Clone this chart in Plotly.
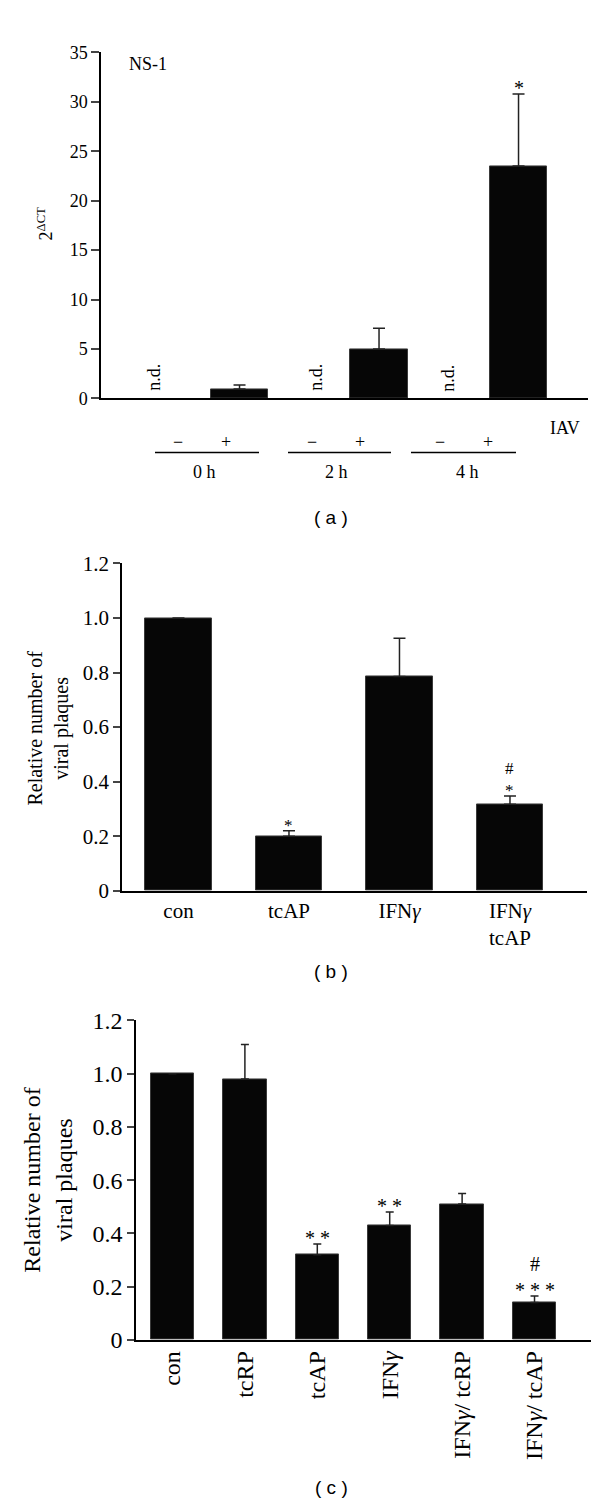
import plotly.graph_objects as go

W, H = 600, 1507
SERIF = "Liberation Serif"
SANS = "Liberation Sans"

# ---------------- data ----------------
# Panel (a): NS-1 expression, IAV -/+ at 0 h, 2 h, 4 h
a_groups = ["0 h", "2 h", "4 h"]
a_iav = ["−", "+"]
a_values = [None, 0.95, None, 5.0, None, 23.5]
a_err = [0, 0.4, 0, 2.1, 0, 7.3]
a_ticks = [0, 5, 10, 15, 20, 25, 30, 35]
a_marks = ["", "", "", "", "", "*"]

# Panel (b)
b_labels = ["con", "tcAP", "IFN<i>γ</i>", "IFN<i>γ</i><br>tcAP"]
b_values = [1.0, 0.20, 0.786, 0.317]
b_err = [0, 0.02, 0.14, 0.03]
b_marks = ["", "*", "", "#<br>*"]

# Panel (c)
c_labels = ["con", "tcRP", "tcAP", "IFN<i>γ</i>", "IFN<i>γ</i>/ tcRP", "IFN<i>γ</i>/ tcAP"]
c_values = [1.0, 0.98, 0.32, 0.43, 0.51, 0.14]
c_err = [0, 0.13, 0.04, 0.05, 0.04, 0.025]
c_marks = ["", "", "* *", "* *", "", "#<br>* * *"]

bc_ticks = [0, 0.2, 0.4, 0.6, 0.8, 1.0, 1.2]
bc_ticktext = ["0", "0.2", "0.4", "0.6", "0.8", "1.0", "1.2"]


def fx(px):
    return px / W


def fy(py):
    return 1 - py / H


BAR_COLOR = "#060606"
BAR_LINE = dict(color="#3a3a3a", width=1)
FA, FB, FC = 18, 21, 24

fig = go.Figure()

# ---- panel (a) bars
a_pos = list(range(len(a_values)))
fig.add_trace(go.Bar(
    x=a_pos, y=a_values, width=0.82, xaxis="x", yaxis="y",
    marker=dict(color=BAR_COLOR, line=BAR_LINE),
    error_y=dict(type="data", symmetric=False, array=a_err, arrayminus=[0] * len(a_err),
                 color="#222", thickness=1.5, width=6),
    showlegend=False, hoverinfo="skip"))

# ---- panel (b) bars
b_pos = list(range(len(b_values)))
fig.add_trace(go.Bar(
    x=b_pos, y=b_values, width=0.6, xaxis="x2", yaxis="y2",
    marker=dict(color=BAR_COLOR, line=BAR_LINE),
    error_y=dict(type="data", symmetric=False, array=b_err, arrayminus=[0] * len(b_err),
                 color="#222", thickness=1.5, width=6),
    showlegend=False, hoverinfo="skip"))

# ---- panel (c) bars
c_pos = list(range(len(c_values)))
fig.add_trace(go.Bar(
    x=c_pos, y=c_values, width=0.6, xaxis="x3", yaxis="y3",
    marker=dict(color=BAR_COLOR, line=BAR_LINE),
    error_y=dict(type="data", symmetric=False, array=c_err, arrayminus=[0] * len(c_err),
                 color="#222", thickness=1.5, width=4),
    showlegend=False, hoverinfo="skip"))

axis_common = dict(showline=True, linecolor="black", linewidth=1.5, showgrid=False,
                   zeroline=False, fixedrange=True)

fig.update_layout(
    width=W, height=H, margin=dict(l=0, r=0, t=0, b=0),
    paper_bgcolor="white", plot_bgcolor="white",
    font=dict(family=SERIF, color="black"),
    bargap=0,
    # panel (a)
    xaxis=dict(domain=[fx(93), fx(580)], range=[-0.986, 5.996], anchor="y",
               showticklabels=False, ticks="", **axis_common),
    yaxis=dict(domain=[fy(384), fy(32)], range=[0, 35], anchor="x",
               tickvals=a_ticks, ticks="outside", ticklen=8, tickwidth=1.5,
               tickfont=dict(size=FA, family=SERIF), **axis_common),
    # panel (b)
    xaxis2=dict(domain=[fx(114), fx(579)], range=[-0.511, 3.697], anchor="y2",
                tickvals=b_pos, ticktext=b_labels, ticks="",
                tickfont=dict(size=FB, family=SERIF), **axis_common),
    yaxis2=dict(domain=[fy(885), fy(552)], range=[0, 1.2], anchor="x2",
                tickvals=bc_ticks, ticktext=bc_ticktext, ticks="outside", ticklen=7,
                tickwidth=1.5, tickfont=dict(size=FB, family=SERIF), **axis_common),
    # panel (c)
    xaxis3=dict(domain=[fx(128), fx(583)], range=[-0.504, 5.78], anchor="y3",
                tickvals=c_pos, ticktext=c_labels, ticks="", tickangle=-90,
                tickfont=dict(size=FC, family=SERIF), **axis_common),
    yaxis3=dict(domain=[fy(1342), fy(1017)], range=[0, 1.2], anchor="x3",
                tickvals=bc_ticks, ticktext=bc_ticktext, ticks="outside", ticklen=7,
                tickwidth=1.5, tickfont=dict(size=FC, family=SERIF), **axis_common),
)

ann = []
shapes = []


def txt(xp, yp, text, size, family=SERIF, angle=0):
    return dict(x=fx(xp), y=fy(yp), xref="paper", yref="paper", text=text,
                xanchor="center", yanchor="middle", textangle=angle,
                showarrow=False, font=dict(size=size, family=family, color="black"))


# ---- panel (a) annotations
ann.append(txt(140, 44, "NS-1", FA))
ann.append(txt(37, 207, "2<sup>ΔCT</sup>", FA, angle=-90))
nd_x_px = [146, 308, 440]
for xp in nd_x_px:
    ann.append(txt(xp, 363, "n.d.", FA, angle=-90))
for i, m in enumerate(a_marks):
    if m:
        ann.append(dict(x=a_pos[i], y=a_values[i] + a_err[i], xref="x", yref="y", text=m,
                        showarrow=False, xanchor="center", yanchor="bottom", yshift=-7,
                        font=dict(size=20, family=SERIF)))
# -/+ row, group lines and labels
sign_x_px = [[170, 218], [304, 352], [432, 480]]
line_x_px = [[147, 251], [280, 383], [403, 508]]
grp_x_px = [196, 328, 459]
for g in range(len(a_groups)):
    for k in range(2):
        ann.append(txt(sign_x_px[g][k], 428, a_iav[k], FA))
    shapes.append(dict(type="line", xref="paper", yref="paper",
                       x0=fx(line_x_px[g][0]), x1=fx(line_x_px[g][1]),
                       y0=fy(439), y1=fy(439), line=dict(color="black", width=1.5)))
    ann.append(txt(grp_x_px[g], 459, a_groups[g], FA))
ann.append(txt(557, 414, "IAV", FA))

# ---- panel (b) annotations
ann.append(txt(41, 720, "Relative number of<br>viral plaques", 20, angle=-90))
for i, m in enumerate(b_marks):
    if m:
        ann.append(dict(x=b_pos[i], y=b_values[i] + b_err[i], xref="x2", yref="y2", text=m,
                        showarrow=False, xanchor="center", yanchor="bottom", yshift=-6,
                        font=dict(size=17, family=SERIF)))

# ---- panel (c) annotations
ann.append(txt(40, 1180, "Relative number of<br>viral plaques", FC, angle=-90))
for i, m in enumerate(c_marks):
    if m:
        ann.append(dict(x=c_pos[i], y=c_values[i] + c_err[i], xref="x3", yref="y3", text=m,
                        showarrow=False, xanchor="center", yanchor="bottom", yshift=-7,
                        font=dict(size=20, family=SERIF)))

# ---- panel letters
for lab, py in [("( a )", 505), ("( b )", 967), ("( c )", 1492)]:
    ann.append(txt(323, py, lab, 19, family=SANS))

fig.update_layout(annotations=ann, shapes=shapes)
fig.write_html("out.html")
